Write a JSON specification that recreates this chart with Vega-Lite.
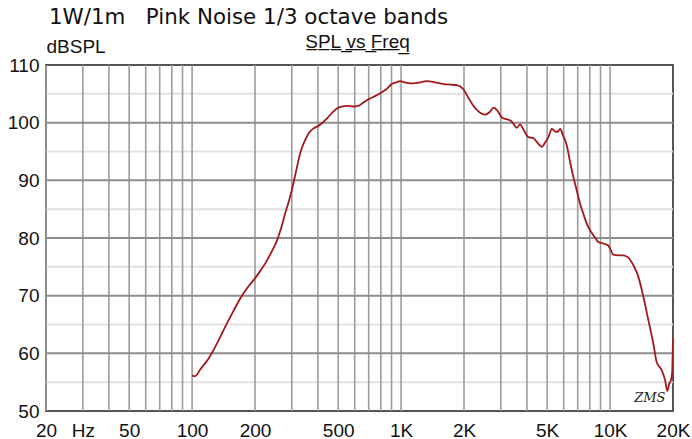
{
  "$schema": "https://vega.github.io/schema/vega-lite/v6.json",
  "width": 627,
  "height": 346,
  "autosize": {"type": "none"},
  "padding": {"left": 46, "top": 65, "right": 19, "bottom": 28},
  "background": "white",
  "title": {
    "text": "1W/1m\u00a0\u00a0\u00a0Pink Noise 1/3 octave bands",
    "anchor": "start",
    "frame": "group",
    "font": "DejaVu Sans",
    "fontSize": 21.4,
    "fontWeight": "normal",
    "color": "#111",
    "dx": 3,
    "offset": 4
  },
  "config": {
    "view": {"stroke": "#555", "strokeWidth": 2},
    "axis": {
      "labelFont": "Liberation Sans",
      "labelFontSize": 19,
      "labelColor": "#111",
      "titleFont": "Liberation Sans",
      "titleFontSize": 19,
      "titleFontWeight": "normal",
      "titleColor": "#111",
      "grid": false,
      "ticks": false,
      "domain": false
    }
  },
  "datasets": {
    "spl": [
      {"f": 100, "db": 56.2}, {"f": 103, "db": 56.0}, {"f": 110, "db": 57.3}, {"f": 120, "db": 59.1},
      {"f": 132, "db": 61.8}, {"f": 144, "db": 64.6}, {"f": 157, "db": 67.2}, {"f": 170, "db": 69.5},
      {"f": 185, "db": 71.5}, {"f": 200, "db": 73.0}, {"f": 212, "db": 74.3}, {"f": 224, "db": 75.6},
      {"f": 240, "db": 77.6}, {"f": 255, "db": 79.6}, {"f": 268, "db": 82.0}, {"f": 279, "db": 84.3},
      {"f": 290, "db": 86.3}, {"f": 300, "db": 88.3}, {"f": 312, "db": 91.0}, {"f": 323, "db": 93.5},
      {"f": 335, "db": 95.6}, {"f": 348, "db": 97.0}, {"f": 362, "db": 98.2}, {"f": 381, "db": 99.0},
      {"f": 400, "db": 99.4}, {"f": 418, "db": 99.9}, {"f": 441, "db": 100.7}, {"f": 470, "db": 101.8},
      {"f": 501, "db": 102.6}, {"f": 550, "db": 102.9}, {"f": 590, "db": 102.8}, {"f": 625, "db": 102.9},
      {"f": 655, "db": 103.4}, {"f": 686, "db": 103.9}, {"f": 740, "db": 104.5}, {"f": 794, "db": 105.1},
      {"f": 850, "db": 105.8}, {"f": 903, "db": 106.7}, {"f": 950, "db": 107.0}, {"f": 989, "db": 107.2},
      {"f": 1040, "db": 107.0}, {"f": 1104, "db": 106.8}, {"f": 1200, "db": 106.9}, {"f": 1327, "db": 107.2},
      {"f": 1450, "db": 107.0}, {"f": 1600, "db": 106.7}, {"f": 1717, "db": 106.6}, {"f": 1849, "db": 106.5},
      {"f": 1987, "db": 105.8}, {"f": 2100, "db": 104.3}, {"f": 2200, "db": 103.1}, {"f": 2303, "db": 102.2},
      {"f": 2420, "db": 101.6}, {"f": 2525, "db": 101.4}, {"f": 2650, "db": 101.8}, {"f": 2768, "db": 102.6},
      {"f": 2900, "db": 102.0}, {"f": 3035, "db": 100.9}, {"f": 3200, "db": 100.6}, {"f": 3324, "db": 100.4},
      {"f": 3450, "db": 99.8}, {"f": 3575, "db": 99.1}, {"f": 3708, "db": 99.7}, {"f": 3850, "db": 98.8},
      {"f": 4065, "db": 97.5}, {"f": 4300, "db": 97.3}, {"f": 4500, "db": 96.5}, {"f": 4710, "db": 95.8},
      {"f": 4880, "db": 96.5}, {"f": 5069, "db": 97.5}, {"f": 5263, "db": 98.9}, {"f": 5450, "db": 98.5},
      {"f": 5600, "db": 98.4}, {"f": 5770, "db": 98.9}, {"f": 5950, "db": 97.8}, {"f": 6203, "db": 96.1},
      {"f": 6450, "db": 93.0}, {"f": 6670, "db": 90.6}, {"f": 6900, "db": 88.5}, {"f": 7180, "db": 86.0},
      {"f": 7450, "db": 84.2}, {"f": 7730, "db": 82.5}, {"f": 8165, "db": 80.9}, {"f": 8500, "db": 80.0},
      {"f": 8785, "db": 79.3}, {"f": 9357, "db": 79.0}, {"f": 9800, "db": 78.7}, {"f": 10100, "db": 77.8},
      {"f": 10350, "db": 77.1}, {"f": 11000, "db": 77.0}, {"f": 11560, "db": 77.0}, {"f": 12225, "db": 76.6},
      {"f": 12920, "db": 75.3}, {"f": 13650, "db": 73.3}, {"f": 14430, "db": 69.8}, {"f": 15240, "db": 65.8},
      {"f": 16100, "db": 61.7}, {"f": 16700, "db": 58.5}, {"f": 17650, "db": 57.1}, {"f": 18320, "db": 55.4},
      {"f": 18790, "db": 53.5}, {"f": 19200, "db": 54.8}, {"f": 19500, "db": 55.2}, {"f": 19800, "db": 56.5},
      {"f": 20000, "db": 62.6}
    ],
    "vgrid": [
      {"f": 20}, {"f": 30}, {"f": 40}, {"f": 50}, {"f": 60}, {"f": 70}, {"f": 80}, {"f": 90},
      {"f": 100}, {"f": 200}, {"f": 300}, {"f": 400}, {"f": 500}, {"f": 600}, {"f": 700}, {"f": 800}, {"f": 900},
      {"f": 1000}, {"f": 2000}, {"f": 3000}, {"f": 4000}, {"f": 5000}, {"f": 6000}, {"f": 7000}, {"f": 8000}, {"f": 9000},
      {"f": 10000}
    ],
    "hmajor": [{"db": 60}, {"db": 70}, {"db": 80}, {"db": 90}, {"db": 100}],
    "hminor": [{"db": 55}, {"db": 65}, {"db": 75}, {"db": 85}, {"db": 95}, {"db": 105}],
    "sig": [{"f": 15500, "db": 52.3, "label": "ZMS"}]
  },
  "data": {"name": "spl"},
  "encoding": {
    "x": {
      "field": "f",
      "type": "quantitative",
      "scale": {"type": "log", "domain": [20, 20000], "nice": false},
      "axis": {
        "values": [20, 30, 50, 100, 200, 500, 1000, 2000, 5000, 10000, 20000],
        "labelExpr": "datum.value == 20 ? '20' : datum.value == 30 ? 'Hz' : datum.value >= 1000 ? format(datum.value / 1000, 'd') + 'K' : format(datum.value, 'd')",
        "labelOverlap": false,
        "labelFlush": false,
        "labelBound": false,
        "labelPadding": 10,
        "title": "S\u0332P\u0332L\u0332\u00a0\u0332v\u0332s\u0332\u00a0\u0332F\u0332r\u0332e\u0332q\u0332",
        "titleX": 311,
        "titleY": -364,
        "titleAnchor": null,
        "titleAlign": "center",
        "titleBaseline": "alphabetic"
      }
    },
    "y": {
      "field": "db",
      "type": "quantitative",
      "scale": {"domain": [50, 110], "nice": false, "zero": false},
      "axis": {
        "values": [50, 60, 70, 80, 90, 100, 110],
        "labelPadding": 7,
        "title": "dBSPL",
        "titleAngle": 0,
        "titleX": 0,
        "titleY": -13,
        "titleAlign": "left",
        "titleBaseline": "alphabetic"
      }
    }
  },
  "layer": [
    {
      "data": {"name": "hminor"},
      "mark": {"type": "rule", "color": "#e2e2e2", "strokeWidth": 2},
      "encoding": {"y": {"field": "db", "type": "quantitative"}, "x": null}
    },
    {
      "data": {"name": "vgrid"},
      "mark": {"type": "rule", "color": "#9c9c9c", "strokeWidth": 1.6},
      "encoding": {"x": {"field": "f", "type": "quantitative"}, "y": null}
    },
    {
      "data": {"name": "hmajor"},
      "mark": {"type": "rule", "color": "#8e8e8e", "strokeWidth": 2},
      "encoding": {"y": {"field": "db", "type": "quantitative"}, "x": null}
    },
    {
      "mark": {"type": "line", "color": "#a3191b", "strokeWidth": 1.8, "interpolate": "monotone", "clip": true}
    },
    {
      "data": {"name": "sig"},
      "mark": {"type": "text", "font": "DejaVu Serif", "fontStyle": "italic", "fontSize": 13, "color": "#222"},
      "encoding": {"text": {"field": "label"}}
    }
  ]
}
